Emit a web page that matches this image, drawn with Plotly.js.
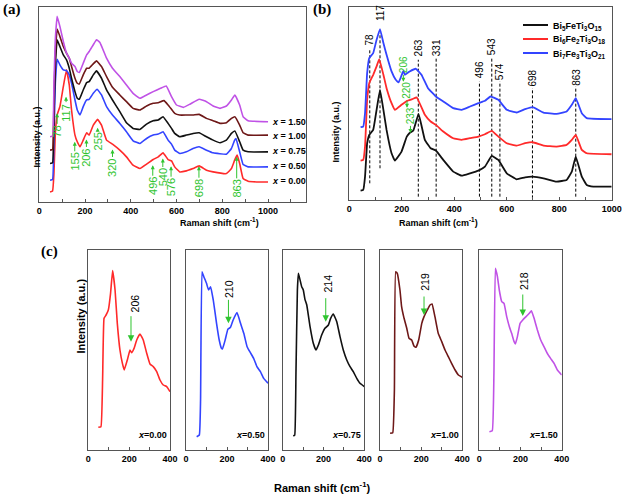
<!DOCTYPE html>
<html>
<head>
<meta charset="utf-8">
<script src="https://cdn.plot.ly/plotly-3.0.1.min.js"></script>
<style>html,body{margin:0;padding:0;background:#fff;}#plot{width:623px;height:495px;}</style>
</head>
<body>
<div id="plot"></div>
<script>
// ---------- Panel (a): Raman spectra vs x ----------
const aShift_000 = [47,58,64,70,78,90,105,119,131,141,156,166,178,192,207,218,236,255,272,294,320,352,381,410,440,469,498,520,541,563,578,592,614,643,672,699,731,760,818,840,854,865,876,891,913,950,1000];
const aInt_000   = [30,33,85,205,260,285,345,395,350,275,200,180,165,185,207,200,230,247,230,185,173,155,135,110,100,113,127,135,147,127,123,105,90,93,100,108,95,90,85,100,125,140,115,70,62,60,60];
const aShift_050 = [47,58,64,70,78,90,105,119,131,141,156,166,178,192,207,218,236,253,272,294,320,352,381,410,440,469,498,520,541,563,578,592,614,643,672,699,731,760,818,840,854,860,876,891,913,1000];
const aInt_050   = [65,67,185,355,427,410,395,393,380,355,305,275,260,285,305,307,325,337,320,285,260,235,210,183,175,190,200,203,210,185,173,155,145,150,160,165,155,147,143,160,185,190,150,112,105,105];
const aShift_075 = [47,58,64,70,78,90,105,119,131,141,156,166,175,192,207,218,236,250,272,294,320,352,381,410,440,469,498,520,541,563,578,592,614,643,672,699,731,760,790,818,840,855,876,891,913,1000];
const aInt_075   = [115,117,255,405,485,465,440,425,400,370,330,310,307,335,357,360,380,392,370,335,305,270,237,220,217,233,243,245,255,235,220,205,195,200,205,207,195,185,177,185,205,212,180,155,150,150];
const aShift_100 = [47,58,64,70,78,90,105,119,131,141,156,166,175,192,207,218,236,250,272,294,320,352,381,410,440,469,498,520,545,563,578,592,614,643,672,699,731,760,790,818,840,855,876,891,913,1000];
const aInt_100   = [155,157,305,445,517,495,465,445,430,405,370,355,353,380,400,400,413,422,405,375,343,320,300,280,275,287,295,297,303,290,277,265,260,260,260,262,250,243,235,237,250,255,230,207,200,200];
const aShift_150 = [47,58,64,70,78,90,105,119,131,141,156,166,175,192,207,218,236,250,265,294,320,352,381,410,440,469,498,530,555,578,600,630,660,699,731,760,790,818,840,855,876,891,913,1000];
const aInt_150   = [195,197,355,485,555,525,480,445,430,415,405,390,387,415,440,450,470,485,477,430,400,375,350,325,310,320,330,340,347,315,290,283,293,307,300,287,280,287,305,320,290,255,243,240];
const aCurveLabels = ['x = 0.00','x = 0.50','x = 0.75','x = 1.00','x = 1.50'];
const aCurveLabelInt = [64,107,152,198,240];
const aPeakLabels = ['78','117','155','206','255','320','496','540','576','698','863'];
const aPeakShift  = [78,117,155,206,255,320,496,540,576,698,863];
const aPeakTipInt = [265,315,180,187,222,157,110,130,107,107,135];
const aPeakTextGap = [18,16,20,18,14,18,21,19,21,22,32];

// ---------- Panel (b): three compounds ----------
const bShift_Bi5 = [43,53,60,68,76,91,104,117,130,142,161,174,199,219,229,244,264,288,310,330,358,396,428,460,492,517,543,568,600,638,670,699,740,790,828,848,863,886,905,930,1000];
const bInt_Bi5   = [28,30,70,170,195,210,270,330,270,210,140,118,145,190,200,208,258,180,155,148,120,85,73,80,88,100,132,120,80,62,68,70,65,55,60,85,130,70,45,40,40];
const bShift_Bi6 = [43,53,60,68,76,91,104,114,130,142,161,174,199,220,240,257,288,310,330,358,396,428,460,492,517,543,568,600,638,670,699,740,790,828,848,863,886,905,1000];
const bInt_Bi6   = [118,120,160,300,350,375,400,422,375,335,290,270,285,297,302,307,255,235,225,205,185,180,185,190,197,207,190,170,163,170,173,163,160,165,180,195,150,140,137];
const bShift_Bi7 = [43,53,60,68,76,91,104,117,130,142,161,177,188,200,206,212,230,254,275,300,330,358,396,428,460,492,517,538,568,600,638,670,699,740,790,828,848,863,886,905,1000];
const bInt_Bi7   = [218,220,260,380,425,440,480,512,470,435,385,360,352,375,387,375,385,393,375,335,310,295,275,270,280,290,297,310,300,270,262,272,278,262,258,265,285,305,260,245,242];
const bNames = ['Bi<sub>5</sub>FeTi<sub>3</sub>O<sub>15</sub>','Bi<sub>6</sub>Fe<sub>2</sub>Ti<sub>3</sub>O<sub>18</sub>','Bi<sub>7</sub>Fe<sub>3</sub>Ti<sub>3</sub>O<sub>21</sub>'];
const bDashShift = [78,117,263,331,496,543,574,698,863];
const bDashTop   = [450,500,420,425,355,425,355,335,340];
const bDashBottom= [50,95,10,10,10,10,10,5,10];
const bDashLabelInt = [480,560,455,455,390,460,385,365,368];
const bGreenLabels = ['206','220','233'];
const bGreenShift  = [206,220,233];
const bGreenTipInt = [354,276,201];

// ---------- Panel (c): low-wavenumber detail ----------
const cShift_000 = [49,62,70,77,87,98,109,119,131,142,155,167,176,191,204,212,224,237,253,269,286,302,318,335,351,367,384,400];
const cInt_000   = [68,70,210,395,405,420,470,538,480,380,300,260,240,270,300,292,305,330,348,330,290,258,250,235,210,195,190,175];
const cShift_050 = [52,65,71,78,87,100,110,120,133,149,162,173,178,191,204,217,230,249,266,282,298,314,330,346,363,379,400];
const cInt_050   = [40,45,150,535,520,500,480,490,450,380,330,305,303,330,362,368,390,412,380,350,310,292,275,250,235,215,200];
const cShift_075 = [52,59,65,72,77,93,101,109,118,134,150,163,175,191,207,224,235,248,265,281,297,314,330,346,363,379,400];
const cInt_075   = [42,45,230,480,530,490,480,452,435,370,320,300,315,345,365,375,395,408,385,340,300,270,250,235,215,200,190];
const cShift_100 = [49,62,70,76,84,97,105,117,130,141,154,165,175,188,203,214,230,243,253,267,283,300,316,332,348,365,381,400];
const cInt_100   = [50,52,180,535,530,480,430,395,365,335,330,312,308,330,380,400,420,435,438,400,350,325,300,280,260,240,225,218];
const cShift_150 = [49,63,71,78,88,97,109,120,133,146,157,169,175,185,198,211,227,243,253,266,282,298,314,330,346,363,379,400];
const cInt_150   = [55,58,230,545,520,480,445,440,400,370,350,325,318,340,380,390,400,410,418,395,360,330,310,290,275,260,240,225];
const cSampleLabels = ['x=0.00','x=0.50','x=0.75','x=1.00','x=1.50'];
const cPeakLabels = ['206','210','214','219','218'];
const cPeakTipShift = [209,207,211,214,211];
const cPeakTipInt = [325,380,385,405,402];
const cPeakTextShift = [229,210,223,219,214];
const cPeakTextInt = [440,483,500,505,508];
const cArrowLen = [27,25,25,20,23];

// ---------- Styling ----------
const FONT = 'Arial, "Liberation Sans", Helvetica, sans-serif';
const SERIF = '"Times New Roman", "Liberation Serif", serif';
const GREEN = '#2fc42f';
const AXC = '#555555';
const colA = ['#ff2a2a','#3344ff','#111111','#6e1818','#c052e6'];
const colB = ['#111111','#ff2a2a','#3344ff'];
const W = 623, H = 495;
const px = v => v / W;
const py = v => 1 - v / H;

const traces = [];
const aData = [[aShift_000,aInt_000],[aShift_050,aInt_050],[aShift_075,aInt_075],[aShift_100,aInt_100],[aShift_150,aInt_150]];
aData.forEach((d,i)=>traces.push({x:d[0],y:d[1],xaxis:'x',yaxis:'y',mode:'lines',line:{color:colA[i],width:1.6,shape:'spline',smoothing:0.3},showlegend:false,hoverinfo:'skip'}));
const bData = [[bShift_Bi5,bInt_Bi5],[bShift_Bi6,bInt_Bi6],[bShift_Bi7,bInt_Bi7]];
bData.forEach((d,i)=>traces.push({x:d[0],y:d[1],xaxis:'x2',yaxis:'y2',mode:'lines',name:bNames[i],line:{color:colB[i],width:1.8,shape:'spline',smoothing:0.3},showlegend:false,hoverinfo:'skip'}));
const cData = [[cShift_000,cInt_000],[cShift_050,cInt_050],[cShift_075,cInt_075],[cShift_100,cInt_100],[cShift_150,cInt_150]];
cData.forEach((d,i)=>traces.push({x:d[0],y:d[1],xaxis:'x'+(i+3),yaxis:'y'+(i+3),mode:'lines',line:{color:colA[i],width:1.6,shape:'spline',smoothing:0.3},showlegend:false,hoverinfo:'skip'}));

const tickFont = {family:FONT,size:9,color:'#000',weight:'bold'};
function xax(domain, range, vals, anchor){
  return {domain:domain, range:range, anchor:anchor, showline:true, mirror:true, linecolor:AXC, linewidth:1,
    ticks:'inside', ticklen:3, tickcolor:AXC, tickvals:vals, ticktext:vals.map(String), tickfont:tickFont,
    minor:{ticks:'inside', dtick:100, tick0:0, ticklen:3, tickcolor:AXC},
    showgrid:false, zeroline:false, fixedrange:true};
}
function yax(domain, range, anchor){
  return {domain:domain, range:range, anchor:anchor, showline:true, mirror:true, linecolor:AXC, linewidth:1,
    ticks:'', showticklabels:false, showgrid:false, zeroline:false, fixedrange:true};
}

const layout = {
  width:W, height:H, margin:{l:0,r:0,t:0,b:0}, paper_bgcolor:'#fff', plot_bgcolor:'#fff',
  font:{family:FONT, color:'#000'}, showlegend:false,
  xaxis: xax([px(39.3),px(306)],[0,1166],[0,200,400,600,800,1000],'y'),
  yaxis: yax([py(202),py(7)],[0,583],'x'),
  xaxis2: xax([px(349.3),px(611.7)],[0,1000],[0,200,400,600,800,1000],'y2'),
  yaxis2: yax([py(200),py(7)],[0,578],'x2'),
  shapes:[], annotations:[]
};
const cL = [88.3,186,282.7,380,479.3], cR = [170,268,364.3,462.3,561.7];
for(let i=0;i<5;i++){
  layout['xaxis'+(i+3)] = xax([px(cL[i]),px(cR[i])],[0,400],[0,200,400],'y'+(i+3));
  layout['yaxis'+(i+3)] = yax([py(450),py(250)],[0,600],'x'+(i+3));
}
const A = layout.annotations;
// legend for panel (b), drawn as line samples + labels
bNames.forEach((n,i)=>{
  const yy = 25 + i*14;
  layout.shapes.push({type:'line',xref:'paper',yref:'paper',x0:px(523),x1:px(548),y0:py(yy),y1:py(yy),line:{color:colB[i],width:2}});
  A.push({text:'<b>'+n+'</b>',xref:'paper',yref:'paper',x:px(551),y:py(yy+1),xanchor:'left',yanchor:'middle',showarrow:false,font:{family:FONT,size:9,color:'#000'}});
});
// panel labels
[['(a)',12,9],['(b)',322,9],['(c)',49,252]].forEach(p=>A.push({text:'<b>'+p[0]+'</b>',xref:'paper',yref:'paper',x:px(p[1]),y:py(p[2]),showarrow:false,xanchor:'center',yanchor:'middle',font:{family:SERIF,size:15,color:'#000'}}));
// axis titles
const ttl = {family:FONT,size:9,color:'#000'};
A.push({text:'<b>Raman shift (cm<sup>-1</sup>)</b>',xref:'paper',yref:'paper',x:px(178),y:py(213.5),yanchor:'top',showarrow:false,font:ttl});
A.push({text:'<b>Raman shift (cm<sup>-1</sup>)</b>',xref:'paper',yref:'paper',x:px(480),y:py(213.5),yanchor:'top',showarrow:false,font:ttl});
A.push({text:'<b>Raman shift (cm<sup>-1</sup>)</b>',xref:'paper',yref:'paper',x:px(322),y:py(478),yanchor:'top',showarrow:false,font:{family:FONT,size:11,color:'#000'}});
A.push({text:'<b>Intensity (a.u.)</b>',xref:'paper',yref:'paper',x:px(29),y:py(105),textangle:-90,showarrow:false,font:ttl});
A.push({text:'<b>Intensity (a.u.)</b>',xref:'paper',yref:'paper',x:px(335),y:py(100),textangle:-90,showarrow:false,font:ttl});
A.push({text:'<b>Intensity (a.u.)</b>',xref:'paper',yref:'paper',x:px(72),y:py(356),textangle:-90,showarrow:false,font:{family:FONT,size:11,color:'#000'}});
// panel (a) curve labels
aCurveLabels.forEach((t,i)=>A.push({text:'<b><i>x</i>'+t.slice(1)+'</b>',xref:'x',yref:'y',x:1008,y:aCurveLabelInt[i],xanchor:'left',yanchor:'middle',showarrow:false,font:{family:FONT,size:9,color:'#000'}}));
// panel (a) green peak arrows
aPeakLabels.forEach((t,i)=>A.push({text:t,xref:'x',yref:'y',x:aPeakShift[i],y:aPeakTipInt[i],textangle:-90,showarrow:true,ax:0,ay:aPeakTextGap[i],arrowhead:2,arrowsize:0.8,arrowwidth:1,arrowcolor:GREEN,standoff:0,font:{family:FONT,size:11,color:GREEN}}));
// panel (b) dashed lines and labels
bDashShift.forEach((s,i)=>{
  layout.shapes.push({type:'line',xref:'x2',yref:'y2',x0:s,x1:s,y0:bDashBottom[i],y1:bDashTop[i],line:{color:'#000',width:1,dash:'3px,2px'},layer:'below'});
  A.push({text:String(s),xref:'x2',yref:'y2',x:s,y:bDashLabelInt[i],textangle:-90,showarrow:false,xanchor:'center',yanchor:'middle',font:{family:FONT,size:10,color:'#000'}});
});
bGreenLabels.forEach((t,i)=>A.push({text:t,xref:'x2',yref:'y2',x:bGreenShift[i],y:bGreenTipInt[i],textangle:-90,showarrow:true,ax:0,ay:-17,arrowhead:2,arrowsize:0.8,arrowwidth:1,arrowcolor:GREEN,standoff:0,font:{family:FONT,size:10,color:GREEN}}));
// panel (c) labels and arrows
for(let i=0;i<5;i++){
  const xr='x'+(i+3), yr='y'+(i+3);
  A.push({text:'',xref:xr,yref:yr,x:cPeakTipShift[i],y:cPeakTipInt[i],showarrow:true,ax:0,ay:-cArrowLen[i],arrowhead:2,arrowsize:1.3,arrowwidth:1,arrowcolor:GREEN,standoff:0});
  A.push({text:cPeakLabels[i],xref:xr,yref:yr,x:cPeakTextShift[i],y:cPeakTextInt[i],textangle:-90,showarrow:false,font:{family:FONT,size:10.5,color:'#000'}});
  A.push({text:'<b><i>x</i>'+cSampleLabels[i].slice(1)+'</b>',xref:xr,yref:yr,x:393,y:45,xanchor:'right',yanchor:'middle',showarrow:false,font:{family:FONT,size:9,color:'#000'}});
}
Plotly.newPlot('plot', traces, layout, {staticPlot:true, displayModeBar:false});
</script>
</body>
</html>
